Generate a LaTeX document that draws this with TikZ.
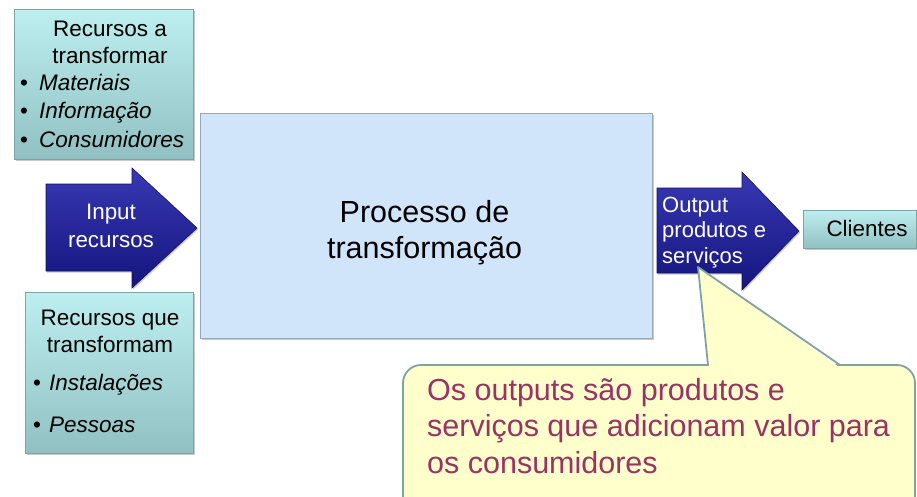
\documentclass[tikz,border=0pt]{standalone}
\usepackage{fontspec}
\setmainfont{Liberation Sans}
\usetikzlibrary{shadows}
\definecolor{tealtop}{HTML}{BDEEF0}
\definecolor{tealbot}{HTML}{90C0C2}
\definecolor{tealedge}{HTML}{7FA3A5}
\definecolor{procfill}{HTML}{D0E4FA}
\definecolor{procedge}{HTML}{93A8BF}
\definecolor{arrtop}{HTML}{3838B4}
\definecolor{arrbot}{HTML}{15157E}
\definecolor{arredge}{HTML}{12125C}
\definecolor{callfill}{HTML}{FFFFCC}
\definecolor{calledge}{HTML}{7FA3A3}
\definecolor{calltxt}{HTML}{993366}
\newcommand\bulmark[1]{\makebox[#1][l]{\upshape •}}
\begin{document}
\begin{tikzpicture}[x=1pt,y=-1pt,
  softshadow/.style={drop shadow={shadow xshift=1.2pt, shadow yshift=-1.5pt, opacity=0.35, fill=black!60}},
  tealbox/.style={draw=tealedge, line width=0.8pt, top color=tealtop, bottom color=tealbot, inner sep=0pt, anchor=north west, softshadow},
  procbox/.style={draw=procedge, line width=0.8pt, fill=procfill, inner sep=0pt, anchor=north west, softshadow},
  bluearrow/.style={draw=arredge, line width=0.6pt, top color=arrtop, bottom color=arrbot, line join=miter, softshadow},
  smalltxt/.style={font=\fontsize{22.5}{27}\selectfont, inner sep=0pt, anchor=base, align=center},
  bullettxt/.style={font=\fontsize{22.5}{27}\selectfont\itshape, inner sep=0pt, anchor=base west},
  whitetxt/.style={font=\fontsize{22.2}{26}\selectfont, text=white, inner sep=0pt},
  bigtxt/.style={font=\fontsize{30.5}{36}\selectfont, inner sep=0pt},
  callbody/.style={draw=calledge, fill=callfill, line width=1.8pt, rounded corners=18pt},
]
\useasboundingbox (0,0) rectangle (917,496);

% process box
\node[procbox, minimum width=452pt, minimum height=225pt] (proc) at (200,113) {};
\node[bigtxt, anchor=base, align=center] (proctxt) at (424.5,258) {Processo de\\transformação};

% top-left box
\node[tealbox, minimum width=179pt, minimum height=150pt] (res1) at (14,9) {};
\node[smalltxt] (res1h) at (110,63) {Recursos a\\transformar};
\node[bullettxt] (res1a) at (20,90) {\bulmark{19pt}Materiais};
\node[bullettxt] (res1b) at (20,118) {\bulmark{19pt}Informação};
\node[bullettxt] (res1c) at (20,147) {\bulmark{19pt}Consumidores};

% bottom-left box
\node[tealbox, minimum width=168pt, minimum height=161pt] (res2) at (25,292) {};
\node[smalltxt] (res2h) at (110,352) {Recursos que\\transformam};
\node[bullettxt] (res2a) at (33,390) {\bulmark{16pt}Instalações};
\node[bullettxt] (res2b) at (33,432) {\bulmark{16pt}Pessoas};

% input arrow
\shadedraw[bluearrow] (46,184) -- (132,184) -- (132,168) -- (197,228) -- (132,288) -- (132,271) -- (46,271) -- cycle;
\node[whitetxt, anchor=base, align=center, font=\fontsize{22.4}{28}\selectfont] (intxt) at (111,247) {Input\\recursos};

% output arrow
\shadedraw[bluearrow] (657,188) -- (742,188) -- (742,172) -- (799,231) -- (742,290) -- (742,273) -- (657,273) -- cycle;
\node[whitetxt, anchor=base west, align=left, font=\fontsize{22}{25.5}\selectfont] (outtxt) at (662,263) {Output\\produtos e\\serviços};

% clientes
\node[tealbox, minimum width=113pt, minimum height=38pt] (cli) at (803,210) {};
\node[smalltxt, font=\fontsize{22.4}{27}\selectfont] (clitxt) at (867,236) {Clientes};

% callout
\draw[callbody] (403,365) rectangle (915,520);
\fill[callfill] (709,367) -- (698,267) -- (839,367) -- cycle;
\draw[draw=calledge, line width=1.8pt, line join=round] (708,365) -- (698,267) -- (840,365);
\node[bigtxt, anchor=base west, align=left, text=calltxt, font=\fontsize{30.5}{36.5}\selectfont] (note) at (427,473) {Os outputs são produtos e\\serviços que adicionam valor para\\os consumidores};
\end{tikzpicture}
\end{document}
